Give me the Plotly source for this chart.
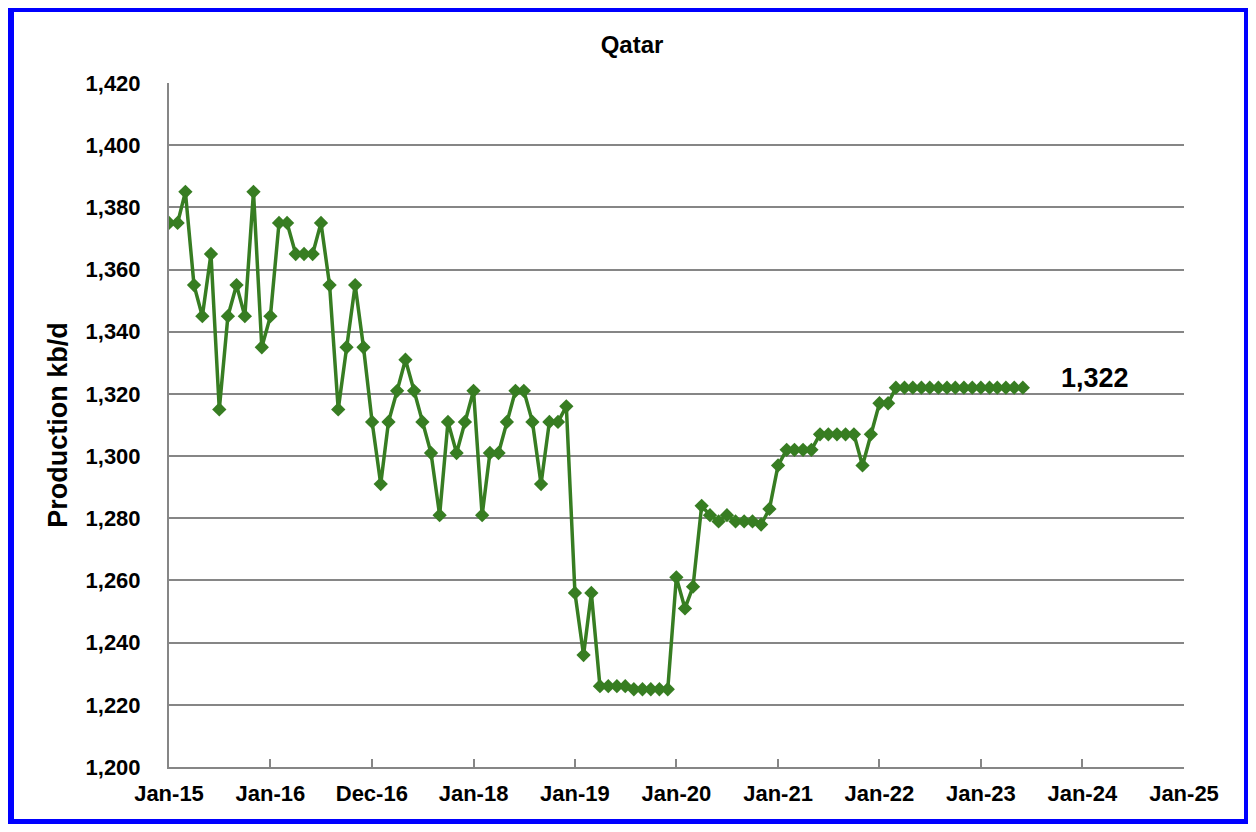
import pandas as pd
import plotly.graph_objects as go

# Monthly Qatar crude production, kb/d, Jan-2015 onward
start_month = "2015-01-01"
production = [
    1375, 1375, 1385, 1355, 1345, 1365, 1315, 1345, 1355, 1345, 1385, 1335,  # 2015
    1345, 1375, 1375, 1365, 1365, 1365, 1375, 1355, 1315, 1335, 1355, 1335,  # 2016
    1311, 1291, 1311, 1321, 1331, 1321, 1311, 1301, 1281, 1311, 1301, 1311,  # 2017
    1321, 1281, 1301, 1301, 1311, 1321, 1321, 1311, 1291, 1311, 1311, 1316,  # 2018
    1256, 1236, 1256, 1226, 1226, 1226, 1226, 1225, 1225, 1225, 1225, 1225,  # 2019
    1261, 1251, 1258, 1284, 1281, 1279, 1281, 1279, 1279, 1279, 1278, 1283,  # 2020
    1297, 1302, 1302, 1302, 1302, 1307, 1307, 1307, 1307, 1307, 1297, 1307,  # 2021
    1317, 1317, 1322, 1322, 1322, 1322, 1322, 1322, 1322, 1322, 1322, 1322,  # 2022
    1322, 1322, 1322, 1322, 1322, 1322,                                      # 2023
]
dates = pd.date_range(start_month, periods=len(production), freq="MS")

tick_dates = ["2015-01-01", "2016-01-01", "2016-12-31", "2018-01-01", "2019-01-01",
              "2020-01-01", "2021-01-01", "2022-01-01", "2023-01-01", "2024-01-01",
              "2025-01-01"]
tick_labels = ["Jan-15", "Jan-16", "Dec-16", "Jan-18", "Jan-19", "Jan-20",
               "Jan-21", "Jan-22", "Jan-23", "Jan-24", "Jan-25"]
y_ticks = list(range(1200, 1421, 20))
y_tick_labels = [f"{v:,}" for v in y_ticks]
last_label = f"{production[-1]:,}"

FONT = "Arial, Liberation Sans, sans-serif"
GREEN = "rgb(55,125,34)"
GRAY = "#868686"

# the page body adds an 8px margin, so the figure is laid out 8px up/left
OFF = 8
W, H = 1256 - OFF, 832 - 2 * OFF
PL, PR, PT, PB = 169 - OFF, 1184 - OFF, 83 - OFF, 767 - OFF  # plot area in figure px
PW, PH = PR - PL, PB - PT


def px_x(x):
    return (x - OFF - PL) / PW


def px_y(y):
    return (PB - (y - OFF)) / PH


fig = go.Figure()
fig.add_trace(go.Scatter(
    x=dates, y=production, mode="lines+markers",
    line=dict(color=GREEN, width=3.5),
    marker=dict(symbol="diamond", size=11, color=GREEN),
    showlegend=False,
))

fig.add_annotation(
    x=px_x(1095), xref="paper", xanchor="center",
    y=1325, yref="y", yanchor="middle",
    text=f"<b>{last_label}</b>", showarrow=False,
    font=dict(family=FONT, size=27, color="black"),
)

fig.update_layout(
    width=W, height=H,
    margin=dict(l=PL, r=W - PR, t=PT, b=H - PB, pad=0),
    paper_bgcolor="white", plot_bgcolor="white",
    title=dict(text="<b>Qatar</b>", x=px_x(632), xref="paper", xanchor="center",
               y=1 - (45 - OFF) / H, yanchor="middle",
               font=dict(family=FONT, size=24, color="black")),
    xaxis=dict(
        range=["2015-01-01", "2025-01-01"],
        tickvals=tick_dates, ticktext=tick_labels,
        tickfont=dict(family=FONT, size=22, color="black", weight="bold"),
        showgrid=False, zeroline=False,
        showline=True, linecolor=GRAY, linewidth=2,
        ticks="inside", ticklen=8, tickwidth=1.5, tickcolor=GRAY,
        ticklabelstandoff=6,
    ),
    yaxis=dict(
        range=[1200, 1420],
        tickvals=y_ticks, ticktext=y_tick_labels,
        tickfont=dict(family=FONT, size=22, color="black", weight="bold"),
        showgrid=True, gridcolor=GRAY, gridwidth=2,
        zeroline=False, showline=True, linecolor=GRAY, linewidth=2,
        ticks="", ticklabelstandoff=22,
        title=dict(text="<b>Production kb/d</b>", standoff=10,
                   font=dict(family=FONT, size=27, color="black")),
    ),
    shapes=[dict(
        type="rect", xref="paper", yref="paper",
        x0=px_x(11), x1=px_x(1247),
        y0=px_y(822), y1=px_y(9),
        line=dict(color="#0000FF", width=6), fillcolor="rgba(0,0,0,0)",
        layer="above",
    )],
)

fig.write_html("out.html")
